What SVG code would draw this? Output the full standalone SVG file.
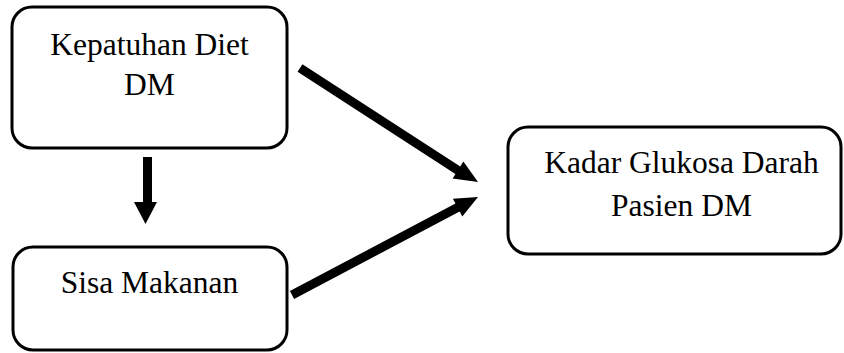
<svg xmlns="http://www.w3.org/2000/svg" width="844" height="353" viewBox="0 0 844 353">
<style>
.box{fill:#fff;stroke:#000;stroke-width:3}
.t{font-family:"Liberation Serif","Times New Roman",serif;font-size:31.5px;fill:#000;text-anchor:middle}
.ln{stroke:#000;stroke-width:9;fill:none}
.hd{fill:#000;stroke:none}
</style>
<rect width="844" height="353" fill="#fff"/>
<g id="kepatuhan">
<rect class="box" x="12" y="7" width="275" height="141" rx="20"/>
<text class="t" x="149.5" y="55">Kepatuhan Diet</text>
<text class="t" x="149.5" y="95">DM</text>
</g>
<g id="sisa">
<rect class="box" x="13" y="247" width="274" height="103" rx="20"/>
<text class="t" x="149.5" y="293">Sisa Makanan</text>
</g>
<g id="kadar">
<rect class="box" x="508" y="127" width="333" height="127" rx="20"/>
<text class="t" x="681.5" y="173">Kadar Glukosa Darah</text>
<text class="t" x="681.5" y="216">Pasien DM</text>
</g>
<g id="connectors">
<line class="ln" x1="147.5" y1="157" x2="147.5" y2="203"/>
<polygon class="hd" points="134,202 157,202 145.5,224"/>
<line class="ln" x1="300" y1="68" x2="459" y2="171"/>
<polygon class="hd" points="478,182 452.6,178.4 463.4,161.6"/>
<line class="ln" x1="292" y1="295" x2="458.5" y2="207"/>
<polygon class="hd" points="478,197 462.3,216.6 452.9,198.8"/>
</g>
</svg>
